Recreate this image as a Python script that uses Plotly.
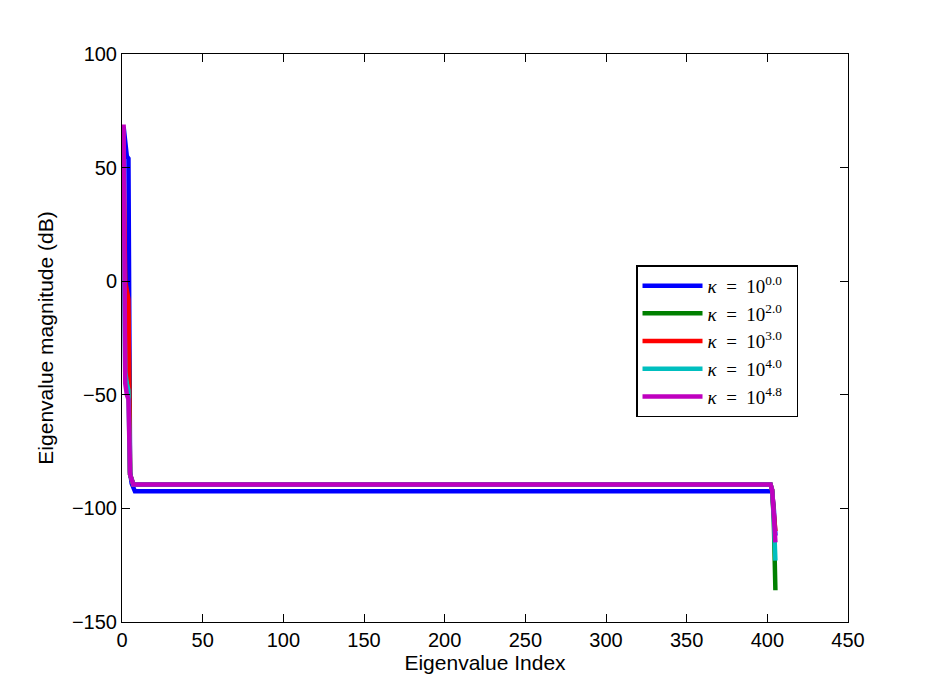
import plotly.graph_objects as go

# Breakpoint indices and values (line segments between consecutive points)
idx_blue = [1, 2, 3, 4, 5, 6, 7, 8, 402, 403, 404, 405]
val_blue = [68, 62, 55, 54, -84, -89, -91.5, -92.5, -92.5, -93, -100, -112]

idx_green = [1, 2, 3, 4, 5, 6, 7, 402, 403, 404, 405]
val_green = [40, -8, -12, -15, -85, -88, -89.5, -89.5, -92, -105, -136]

idx_red = [1, 2, 3, 4, 5, 6, 7, 402, 403, 404, 405]
val_red = [50, 0, -4, -8, -85, -88, -89.5, -89.5, -92, -102, -110]

idx_cyan = [1, 2, 3, 4, 5, 6, 7, 402, 403, 404, 405]
val_cyan = [20, -40, -45, -48, -85, -88, -89.5, -89.5, -92, -104, -123]

idx_mag = [1, 2, 3, 4, 5, 6, 7, 402, 403, 404, 405]
val_mag = [69, -45, -50, -52, -85, -88, -89.5, -89.5, -92, -103, -115]

labels = ["0.0", "2.0", "3.0", "4.0", "4.8"]
colors = ["#0000ff", "#008000", "#ff0000", "#00bfbf", "#bf00bf"]

series = [(idx_blue, val_blue), (idx_green, val_green), (idx_red, val_red),
          (idx_cyan, val_cyan), (idx_mag, val_mag)]

fig = go.Figure()
for (xs, ys), lab, col in zip(series, labels, colors):
    fig.add_trace(go.Scatter(
        x=xs, y=ys, mode="lines",
        line=dict(color=col, width=4.5),
        name=f"<i>κ</i>\u00a0 = \u00a010<sup>{lab}</sup>\u00a0\u00a0",
    ))

sans = "Liberation Sans, Arial"
axis_common = dict(
    showline=True, linecolor="black", linewidth=1, mirror="allticks",
    ticks="inside", ticklen=8, tickcolor="black", showgrid=False, zeroline=False,
    tickfont=dict(family=sans, size=20, color="black"),
)

fig.update_layout(
    width=934, height=700,
    margin=dict(l=122, r=86, t=54, b=78),
    paper_bgcolor="white", plot_bgcolor="white",
    showlegend=True,
    legend=dict(
        x=0.708, y=0.628, xanchor="left", yanchor="top",
        bgcolor="white", bordercolor="black", borderwidth=1.5,
        font=dict(family="Liberation Serif", size=19, color="black"),
        itemwidth=60, tracegroupgap=0,
    ),
    xaxis=dict(range=[0, 450], tickvals=list(range(0, 451, 50)),
               title=dict(text="Eigenvalue Index", standoff=2,
                          font=dict(family=sans, size=21, color="black")),
               **axis_common),
    yaxis=dict(range=[-150, 100], tickvals=list(range(-150, 101, 50)),
               title=dict(text="Eigenvalue magnitude (dB)", standoff=12,
                          font=dict(family=sans, size=21, color="black")),
               **axis_common),
)

fig.write_html("out.html")
